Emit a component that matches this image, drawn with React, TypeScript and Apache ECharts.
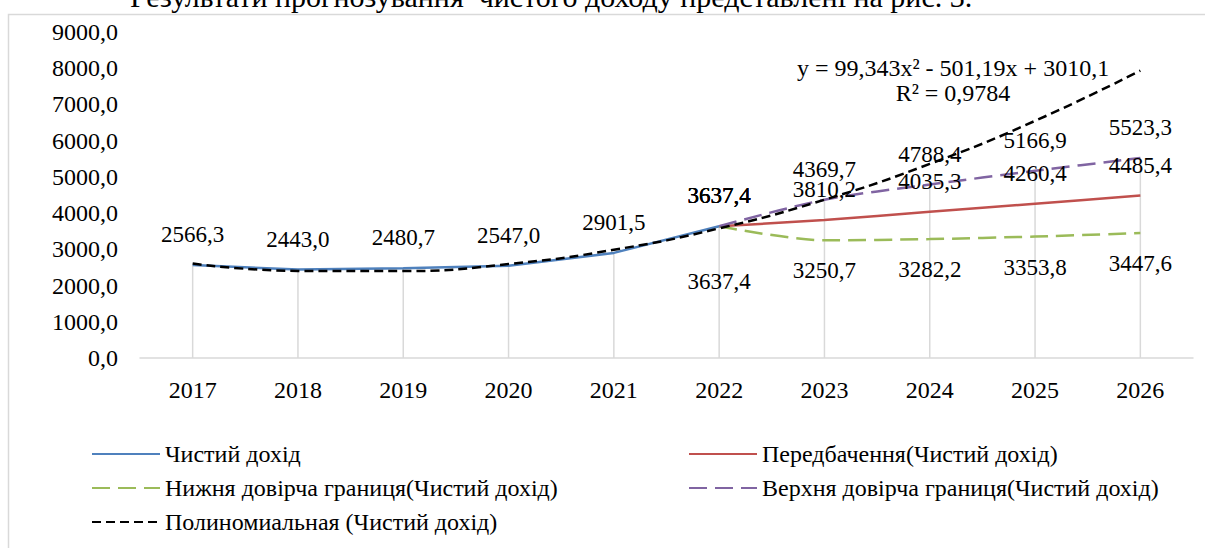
import React, { useEffect, useRef } from "react";
import * as echarts from "echarts";

const categories = ["2017", "2018", "2019", "2020", "2021", "2022", "2023", "2024", "2025", "2026"];
const actual = [2566.3, 2443.0, 2480.7, 2547.0, 2901.5, 3637.4, null, null, null, null];
const forecast = [null, null, null, null, null, 3637.4, 3810.2, 4035.3, 4260.4, 4485.4];
const lower = [null, null, null, null, null, 3637.4, 3250.7, 3282.2, 3353.8, 3447.6];
const upper = [null, null, null, null, null, 3637.4, 4369.7, 4788.4, 5166.9, 5523.3];
const trend = [2608.3, 2405.1, 2400.7, 2594.9, 2987.9, 3579.6, 4370.0, 5359.0, 6546.9, 7933.6];

const names = {
  actual: "Чистий дохід",
  forecast: "Передбачення(Чистий дохід)",
  lower: "Нижня довірча границя(Чистий дохід)",
  upper: "Верхня довірча границя(Чистий дохід)",
  trend: "Полиномиальная (Чистий дохід)",
};

const equation = "y = 99,343x² - 501,19x + 3010,1";
const rSquared = "R² = 0,9784";
const headerText = "Результати прогнозування  чистого доходу представлені на рис. 3.";

const FONT = "Liberation Serif";
const fmt = (v: number) => v.toFixed(1).replace(".", ",");

export default function App() {
  const ref = useRef<HTMLDivElement>(null);
  useEffect(() => {
    if (!ref.current) return;
    const chart = echarts.init(ref.current, null, { renderer: "svg" });
    const tops = categories.map((_, i) => {
      const vals = [actual[i], forecast[i], upper[i]].filter((v) => v != null) as number[];
      return Math.max(...vals);
    });
    const label = (pos: string) => ({
      show: true,
      position: pos,
      distance: 19,
      fontFamily: FONT,
      fontSize: 23,
      color: "#000",
      formatter: (p: any) => (p.value == null ? "" : fmt(p.value)),
    });
    // the first lower-bound label sits further below its point in the reference
    const lowerData = lower.map((v, i) =>
      i === 5 && v != null ? { value: v, label: { distance: 44 } } : v
    );
    const legendText = { fontFamily: FONT, fontSize: 24, lineHeight: 24, color: "#000" };
    chart.setOption({
      animation: false,
      textStyle: { fontFamily: FONT },
      grid: { left: 140, right: 12, top: 32, bottom: 190, containLabel: false },
      xAxis: {
        type: "category",
        data: categories,
        boundaryGap: true,
        axisLine: { lineStyle: { color: "#D9D9D9", width: 1.5 } },
        axisTick: { show: false },
        axisLabel: { color: "#000", fontSize: 24, fontFamily: FONT, margin: 20 },
        splitLine: { show: false },
      },
      yAxis: {
        type: "value",
        min: 0,
        max: 9000,
        interval: 1000,
        axisLine: { show: false },
        axisTick: { show: false },
        splitLine: { show: false },
        axisLabel: {
          color: "#000",
          fontSize: 24,
          fontFamily: FONT,
          margin: 22,
          formatter: (v: number) => fmt(v),
        },
      },
      legend: [
        {
          left: 86,
          top: 437,
          orient: "vertical",
          itemWidth: 68,
          itemHeight: 14,
          itemGap: 10,
          itemStyle: { opacity: 0 },
          data: [names.actual, names.lower, names.trend],
          textStyle: legendText,
        },
        {
          left: 683,
          top: 437,
          orient: "vertical",
          itemWidth: 68,
          itemHeight: 14,
          itemGap: 10,
          itemStyle: { opacity: 0 },
          data: [names.forecast, names.upper],
          textStyle: legendText,
        },
      ],
      graphic: [
        {
          type: "rect",
          shape: { x: 8.5, y: 14.5, width: 1200, height: 600 },
          style: { fill: "none", stroke: "#D9D9D9", lineWidth: 1.5 },
          silent: true,
        },
        {
          type: "text",
          x: 130,
          y: -4,
          style: {
            text: headerText,
            font: `30px ${FONT}`,
            fill: "#000",
            verticalAlign: "middle",
          },
        },
        {
          type: "text",
          x: 953,
          y: 68,
          style: { text: equation, font: `24px ${FONT}`, fill: "#000", align: "center", verticalAlign: "middle" },
        },
        {
          type: "text",
          x: 953,
          y: 93,
          style: { text: rSquared, font: `24px ${FONT}`, fill: "#000", align: "center", verticalAlign: "middle" },
        },
      ],
      series: [
        {
          name: "drops",
          type: "bar",
          data: tops,
          barWidth: 1.5,
          silent: true,
          itemStyle: { color: "#D9D9D9" },
          z: 1,
        },
        {
          name: names.actual,
          type: "line",
          data: actual,
          symbol: "circle",
          symbolSize: 0,
          lineStyle: { color: "#4F81BD", width: 2.5 },
          itemStyle: { color: "#4F81BD" },
          label: label("top"),
          z: 3,
        },
        {
          name: names.forecast,
          type: "line",
          data: forecast,
          symbol: "circle",
          symbolSize: 0,
          smooth: 0.3,
          lineStyle: { color: "#C0504D", width: 2.5 },
          itemStyle: { color: "#C0504D" },
          label: label("top"),
          z: 3,
        },
        {
          name: names.lower,
          type: "line",
          data: lowerData,
          symbol: "circle",
          symbolSize: 0,
          smooth: 0.3,
          lineStyle: { color: "#9BBB59", width: 2.5, type: [18, 8] },
          itemStyle: { color: "#9BBB59" },
          label: label("bottom"),
          z: 3,
        },
        {
          name: names.upper,
          type: "line",
          data: upper,
          symbol: "circle",
          symbolSize: 0,
          smooth: 0.3,
          lineStyle: { color: "#8064A2", width: 2.5, type: [18, 8] },
          itemStyle: { color: "#8064A2" },
          label: label("top"),
          z: 3,
        },
        {
          name: names.trend,
          type: "line",
          data: trend,
          symbol: "none",
          smooth: true,
          lineStyle: { color: "#000", width: 2.5, type: [9, 5] },
          itemStyle: { color: "#000" },
          z: 4,
        },
      ],
    });
    return () => chart.dispose();
  }, []);
  return (
    <div
      ref={ref}
      style={{ position: "absolute", left: 0, top: 0, width: 1205, height: 548, background: "#fff" }}
    />
  );
}
